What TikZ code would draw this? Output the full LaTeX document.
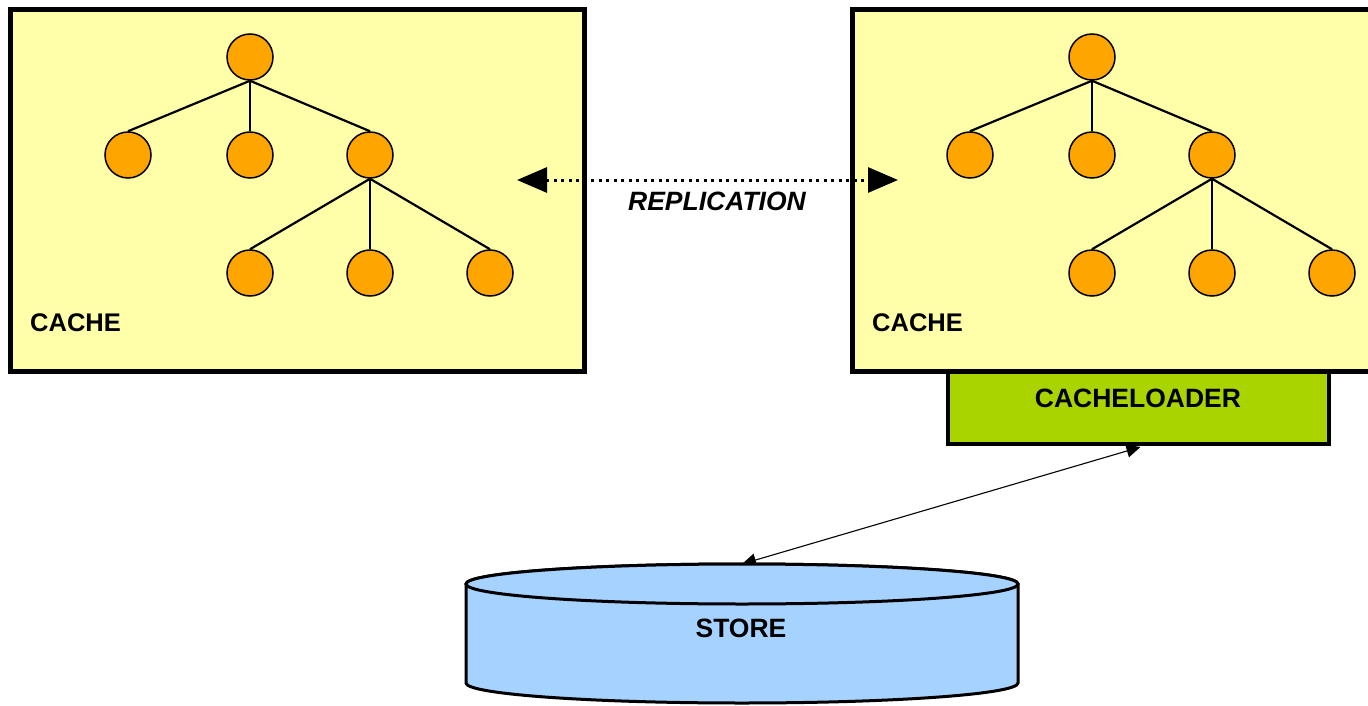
\documentclass[tikz,border=0pt]{standalone}
\usepackage{fontspec}
\setmainfont{Liberation Sans}
\usetikzlibrary{arrows.meta}
\definecolor{cacheyellow}{RGB}{255,255,170}
\definecolor{nodeorange}{RGB}{255,165,0}
\definecolor{loadergreen}{RGB}{170,212,0}
\definecolor{storeblue}{RGB}{166,210,255}
\pgfdeclarelayer{under}
\pgfsetlayers{under,main}
\tikzset{
  cachebox/.style={draw=black, fill=cacheyellow, line width=5pt, inner sep=0pt, minimum width=574pt, minimum height=361pt},
  loaderbox/.style={draw=black, fill=loadergreen, line width=4pt, inner sep=0pt, minimum width=381pt, minimum height=74pt},
  treenode/.style={circle, draw=black, fill=nodeorange, line width=1.5pt, minimum size=46pt, inner sep=0pt},
  edge/.style={draw=black, line width=2.2pt},
  lbl/.style={font=\fontsize{26.5}{30}\selectfont\bfseries, inner sep=0pt},
  cachelbl/.style={font=\fontsize{25.5}{30}\selectfont\bfseries, inner sep=0pt},
  repl/.style={line width=3pt, dash pattern=on 3pt off 4.5pt, {Triangle[length=30pt,width=25pt]}-{Triangle[length=30pt,width=25pt]}},
  loadarrow/.style={line width=1.1pt, {Triangle[length=14pt,width=13pt]}-{Triangle[length=14pt,width=13pt]}},
  cylline/.style={line width=3pt, draw=black, fill=storeblue}
}
\begin{document}
\begin{tikzpicture}[x=1pt, y=-1pt]
\useasboundingbox (0,0) rectangle (1368,706);
\clip (0,0) rectangle (1368,706);
\begin{pgfonlayer}{under}
\fill[white] (0,0) rectangle (1368,706);
\end{pgfonlayer}

% cacheloader box (under the right cache)
\node[loaderbox] (loader) at (1138.5,407) {};
\node[lbl, anchor=base] (loadertext) at (1138,407) {CACHELOADER};

% the two caches
\foreach \p/\dx in {L/0, R/842} {
  \begin{scope}[xshift=\dx]
    \node[cachebox] (\p box) at (297,190.5) {};
    \node[treenode] (\p r) at (250,57) {};
    \node[treenode] (\p a) at (128,155) {};
    \node[treenode] (\p b) at (250,155) {};
    \node[treenode] (\p c) at (370,155) {};
    \node[treenode] (\p d) at (250,273) {};
    \node[treenode] (\p e) at (370,273) {};
    \node[treenode] (\p f) at (490,273) {};
    \draw[edge] (\p r.south) -- (\p a.north);
    \draw[edge] (\p r.south) -- (\p b.north);
    \draw[edge] (\p r.south) -- (\p c.north);
    \draw[edge] (\p c.south) -- (\p d.north);
    \draw[edge] (\p c.south) -- (\p e.north);
    \draw[edge] (\p c.south) -- (\p f.north);
    \node[cachelbl, anchor=base west] (\p label) at (30,331) {CACHE};
  \end{scope}
}

% replication
\coordinate (repL) at (517,180);
\coordinate (repR) at (898,180);
\draw[repl] (repL) -- (repR);
\node[lbl, anchor=base, font=\fontsize{26.5}{30}\selectfont\bfseries\itshape] (repltext) at (717,210) {REPLICATION};

% store cylinder
\path[cylline] (466,584) -- (466,683)
  arc[start angle=180, end angle=0, x radius=276, y radius=20]
  -- (1018,584)
  arc[start angle=0, end angle=-180, x radius=276, y radius=20] -- cycle;
\draw[cylline] (742,584) ellipse [x radius=276, y radius=20];
\coordinate (storetop) at (742,564);
\node[lbl, anchor=base] (store) at (741,637) {STORE};

% store <-> cacheloader
\begin{pgfonlayer}{under}
\draw[loadarrow] (storetop) -- ([xshift=2pt, yshift=-1pt]loader.south);
\end{pgfonlayer}
\end{tikzpicture}
\end{document}
